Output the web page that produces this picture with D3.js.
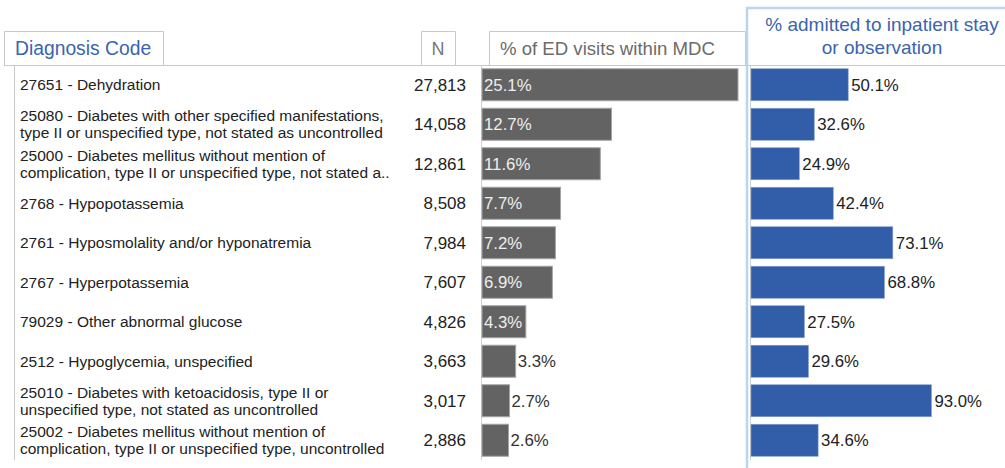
<!DOCTYPE html>
<html>
<head>
<meta charset="utf-8">
<script src="https://cdn.jsdelivr.net/npm/d3@7"></script>
<style>
  body { margin: 0; background: #fff; }
  svg { display: block; font-family: "Liberation Sans", Arial, sans-serif; }
</style>
</head>
<body>
<svg id="chart"></svg>
<script>
var codes = ["27651", "25080", "25000", "2768", "2761", "2767", "79029", "2512", "25010", "25002"];
var descLines = [
  ["27651 - Dehydration"],
  ["25080 - Diabetes with other specified manifestations,", "type II or unspecified type, not stated as uncontrolled"],
  ["25000 - Diabetes mellitus without mention of", "complication, type II or unspecified type, not stated a.."],
  ["2768 - Hypopotassemia"],
  ["2761 - Hyposmolality and/or hyponatremia"],
  ["2767 - Hyperpotassemia"],
  ["79029 - Other abnormal glucose"],
  ["2512 - Hypoglycemia, unspecified"],
  ["25010 - Diabetes with ketoacidosis, type II or", "unspecified type, not stated as uncontrolled"],
  ["25002 - Diabetes mellitus without mention of", "complication, type II or unspecified type, uncontrolled"]
];
var counts = [27813, 14058, 12861, 8508, 7984, 7607, 4826, 3663, 3017, 2886];
var pctVisits = [25.1, 12.7, 11.6, 7.7, 7.2, 6.9, 4.3, 3.3, 2.7, 2.6];
var pctAdmitted = [50.1, 32.6, 24.9, 42.4, 73.1, 68.8, 27.5, 29.6, 93.0, 34.6];

var width = 1005, height = 468;
var svg = d3.select("#chart").attr("width", width).attr("height", height);

var rows = codes.map(function(c, i) {
  return { code: c, lines: descLines[i], n: counts[i], visits: pctVisits[i], admit: pctAdmitted[i] };
});

var y = d3.scaleBand()
  .domain(codes)
  .range([65, 460])
  .paddingInner(0.19)
  .paddingOuter(0.095);

var xVisits = d3.scaleLinear().domain([0, 25.1]).range([482, 738]);
var xAdmit = d3.scaleLinear().domain([0, 100]).range([751, 945]);

// right panel frame
svg.append("path")
  .attr("d", "M747,468 V8 H1005")
  .attr("fill", "none")
  .attr("stroke", "#bcd5ec")
  .attr("stroke-width", 2.5);

// header separator
svg.append("line")
  .attr("x1", 4).attr("x2", 1005).attr("y1", 65.5).attr("y2", 65.5)
  .attr("stroke", "#c9c9c9");

// header tabs
var tabs = [
  { x: 4, w: 159, text: "Diagnosis Code", color: "#3a64b0", anchor: "start", tx: 11, size: 19.3 },
  { x: 421, w: 34, text: "N", color: "#777", anchor: "middle", tx: 17, size: 18 },
  { x: 489, w: 256, text: "% of ED visits within MDC", color: "#6b6b6b", anchor: "start", tx: 11, size: 18.6 }
];
var tabG = svg.selectAll(".tab").data(tabs).enter().append("g").attr("class", "tab");
tabG.append("path")
  .attr("d", function(d) { return "M" + (d.x + 0.5) + ",65 V31.5 H" + (d.x + d.w + 0.5) + " V65"; })
  .attr("fill", "#fff")
  .attr("stroke", "#c9c9c9");
tabG.append("text")
  .attr("x", function(d) { return d.x + d.tx; })
  .attr("y", 55)
  .attr("text-anchor", function(d) { return d.anchor; })
  .attr("fill", function(d) { return d.color; })
  .style("font-size", function(d) { return d.size + "px"; })
  .text(function(d) { return d.text; });

svg.append("text")
  .attr("x", 882).attr("y", 31)
  .attr("text-anchor", "middle")
  .attr("fill", "#3a64b0")
  .style("font-size", "19px")
  .selectAll("tspan")
  .data(["% admitted to inpatient stay", "or observation"])
  .enter().append("tspan")
  .attr("x", 882)
  .attr("dy", function(d, i) { return i ? 23 : 0; })
  .text(function(d) { return d; });

// table left border and axis lines
svg.append("line").attr("x1", 14.5).attr("x2", 14.5).attr("y1", 65).attr("y2", 460).attr("stroke", "#c9c9c9");
svg.append("line").attr("x1", 481.5).attr("x2", 481.5).attr("y1", 65).attr("y2", 460).attr("stroke", "#d0d0d0");
svg.append("line").attr("x1", 750.5).attr("x2", 750.5).attr("y1", 65).attr("y2", 460).attr("stroke", "#d0d0d0");

var rowG = svg.selectAll(".row").data(rows).enter().append("g").attr("class", "row");

// diagnosis labels
rowG.append("text")
  .attr("x", 20)
  .attr("y", function(d) { return y(d.code) + y.bandwidth() / 2; })
  .attr("fill", "#222")
  .style("font-size", "15.5px")
  .selectAll("tspan")
  .data(function(d) { return d.lines.map(function(t, i) { return { t: t, i: i, k: d.lines.length }; }); })
  .enter().append("tspan")
  .attr("x", 20)
  .attr("dy", function(d) {
    if (d.k === 1) return "0.35em";
    return d.i === 0 ? "-0.2em" : "1.1em";
  })
  .text(function(d) { return d.t; });

// N
rowG.append("text")
  .attr("x", 466)
  .attr("y", function(d) { return y(d.code) + y.bandwidth() / 2; })
  .attr("dy", "0.35em")
  .attr("text-anchor", "end")
  .attr("fill", "#222")
  .style("font-size", "17px")
  .text(function(d) { return d3.format(",")(d.n); });

// visits bars
rowG.append("rect")
  .attr("x", xVisits(0))
  .attr("y", function(d) { return y(d.code); })
  .attr("width", function(d) { return xVisits(d.visits) - xVisits(0); })
  .attr("height", y.bandwidth())
  .attr("fill", "#636363")
  .attr("stroke", "#a5a5a5")
  .attr("stroke-width", 1);

rowG.append("text")
  .attr("x", function(d) { return d.visits >= 4 ? xVisits(0) + 2 : xVisits(d.visits) + 2; })
  .attr("y", function(d) { return y(d.code) + y.bandwidth() / 2; })
  .attr("dy", "0.35em")
  .attr("fill", function(d) { return d.visits >= 4 ? "#eeeeee" : "#333"; })
  .style("font-size", "16.8px")
  .text(function(d) { return d.visits.toFixed(1) + "%"; });

// admitted bars
rowG.append("rect")
  .attr("x", xAdmit(0))
  .attr("y", function(d) { return y(d.code); })
  .attr("width", function(d) { return xAdmit(d.admit) - xAdmit(0); })
  .attr("height", y.bandwidth())
  .attr("fill", "#325ea9")
  .attr("stroke", "#7f9fd0")
  .attr("stroke-width", 0.6);

rowG.append("text")
  .attr("x", function(d) { return xAdmit(d.admit) + 3; })
  .attr("y", function(d) { return y(d.code) + y.bandwidth() / 2; })
  .attr("dy", "0.35em")
  .attr("fill", "#222")
  .style("font-size", "16.8px")
  .text(function(d) { return d.admit.toFixed(1) + "%"; });
</script>
</body>
</html>
